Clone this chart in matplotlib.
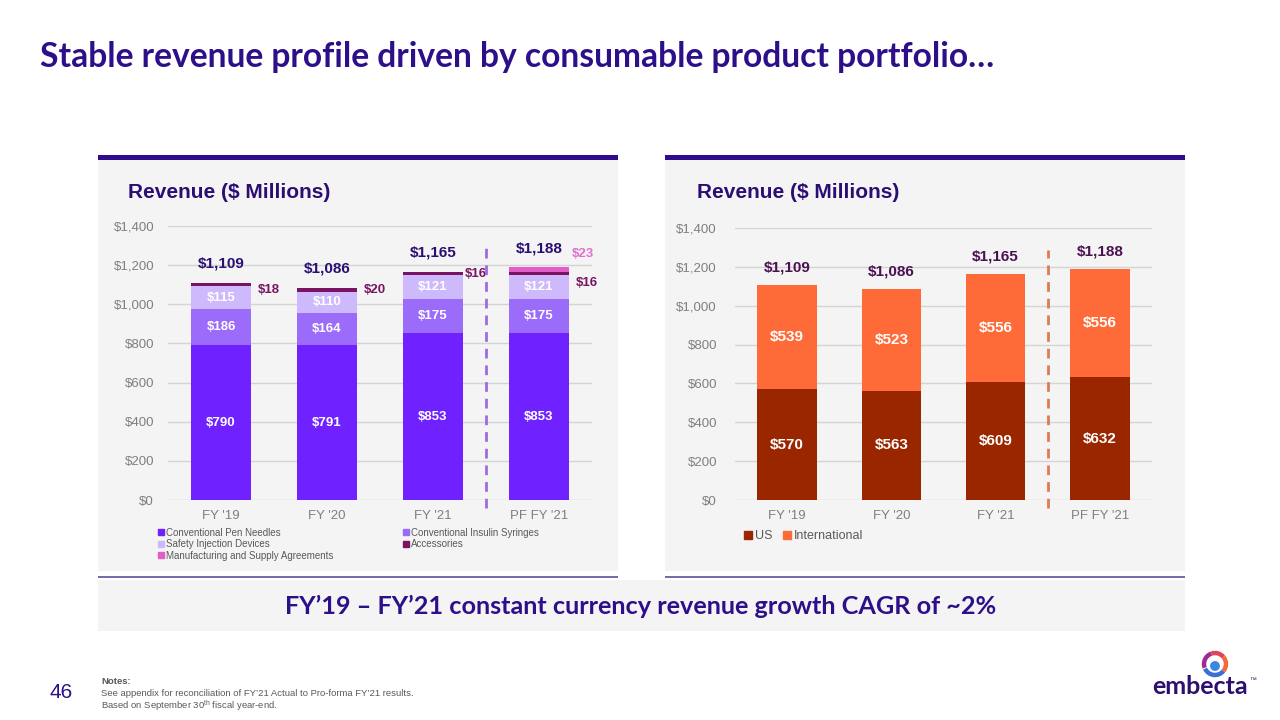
import numpy as np
import matplotlib
matplotlib.use('Agg')
import matplotlib.pyplot as plt
from matplotlib.patches import Rectangle, Arc, Circle
from matplotlib.lines import Line2D

plt.rcParams['font.family'] = ['Liberation Sans', 'DejaVu Sans']
plt.rcParams['mathtext.fontset'] = 'custom'
plt.rcParams['mathtext.rm'] = 'Liberation Sans'

# data
years = ["FY '19", "FY '20", "FY '21", "PF FY '21"]
pen_needles = [790, 791, 853, 853]
insulin_syringes = [186, 164, 175, 175]
safety_devices = [115, 110, 121, 121]
accessories = [18, 20, 16, 16]
mfg_supply = [0, 0, 0, 23]
totals = [1109, 1086, 1165, 1188]
us = [570, 563, 609, 632]
international = [539, 523, 556, 556]
yticks = [0, 200, 400, 600, 800, 1000, 1200, 1400]

# colours
c_pen = '#6F22FF'
c_syr = '#9B6BFA'
c_safe = '#CDB9FC'
c_acc = '#7A1462'
c_msa = '#E35CC8'
c_us = '#9A2600'
c_int = '#FF6B38'
navy = '#2E0F8A'
grey_txt = '#7F7F7F'
panel_bg = '#F4F4F4'

W, H = 1280, 720
fig = plt.figure(figsize=(12.8, 7.2), dpi=100)
fig.patch.set_facecolor('white')


def box(x0, y0, x1, y1):
    # pixel box (top-left origin) -> figure fraction rect
    return [x0 / W, 1 - y1 / H, (x1 - x0) / W, (y1 - y0) / H]


def rect(x0, y0, x1, y1, color):
    b = box(x0, y0, x1, y1)
    fig.patches.append(Rectangle((b[0], b[1]), b[2], b[3], transform=fig.transFigure,
                                 facecolor=color, edgecolor='none', zorder=-5))


def fx(x):
    return x / W


def fy(y):
    return 1 - y / H


# panel backgrounds and rules
for x0, x1 in [(98, 618), (665, 1185)]:
    rect(x0, 160, x1, 571, panel_bg)
    rect(x0, 155, x1, 160, '#2E0C8C')
    rect(x0, 575.5, x1, 577.5, '#7B6AAA')
rect(98, 580, 1185, 631, panel_bg)

fig.text(fx(40), fy(57), "Stable revenue profile driven by consumable product portfolio\u2026",
         fontsize=24.2, fontweight='bold', color=navy, family=['Lato', 'DejaVu Sans'],
         ha='left', va='center')
fig.text(fx(641), fy(606), "FY\u201919 \u2013 FY\u201921 constant currency revenue growth CAGR of ~2%",
         fontsize=18.2, fontweight='bold', color=navy, family=['Lato', 'DejaVu Sans'],
         ha='center', va='center')
fig.text(fx(128), fy(192), "Revenue ($ Millions)", fontsize=15, fontweight='bold',
         color='#2C0E73', ha='left', va='center')
fig.text(fx(697), fy(192), "Revenue ($ Millions)", fontsize=15, fontweight='bold',
         color='#2C0E73', ha='left', va='center')


def style_axes(ax):
    ax.set_facecolor('none')
    ax.set_xlim(-0.5, 3.5)
    ax.set_ylim(0, 1400)
    ax.set_yticks(yticks)
    ax.set_yticklabels(['${:,.0f}'.format(v) for v in yticks])
    ax.set_xticks(range(len(years)))
    ax.set_xticklabels(years)
    for s in ax.spines.values():
        s.set_visible(False)
    ax.tick_params(length=0, labelsize=9.5, labelcolor=grey_txt)
    ax.tick_params(axis='x', pad=7)
    ax.grid(axis='y', color='#D4D4D4', linewidth=1)
    ax.set_axisbelow(True)


x = np.arange(len(years))

# left chart: product portfolio
ax1 = fig.add_axes(box(168, 226, 592, 500))
style_axes(ax1)
ax1.tick_params(axis='y', pad=10)
bw = 0.57
b = np.zeros(len(years))
series = [(pen_needles, c_pen, 'Conventional Pen Needles'),
          (insulin_syringes, c_syr, 'Conventional Insulin Syringes'),
          (safety_devices, c_safe, 'Safety Injection Devices'),
          (accessories, c_acc, 'Accessories'),
          (mfg_supply, c_msa, 'Manufacturing and Supply Agreements')]
conts = []
for vals, col, lab in series:
    c = ax1.bar(x, vals, bw, bottom=b, color=col, label=lab, zorder=2)
    conts.append(c)
    b = b + np.array(vals)
for c in conts[:3]:
    ax1.bar_label(c, fmt='${:,.0f}', label_type='center', color='white',
                  fontsize=9.5, fontweight='bold')

# small segment labels at right of bars
acc_offsets = [(5, -4), (5, 0), (1, 0), (5, -7)]
bottoms_acc = np.array(pen_needles) + np.array(insulin_syringes) + np.array(safety_devices)
for i, v in enumerate(accessories):
    ax1.annotate('${}'.format(v), xy=(x[i] + bw / 2, bottoms_acc[i] + v / 2),
                 xytext=acc_offsets[i], textcoords='offset points', ha='left', va='center',
                 fontsize=9.5, fontweight='bold', color=c_acc)
ax1.annotate('${}'.format(mfg_supply[3]), xy=(x[3] + bw / 2, totals[3]),
             xytext=(2, 10), textcoords='offset points', ha='left', va='center',
             fontsize=9.5, fontweight='bold', color='#E070D0')
for i, t in enumerate(totals):
    ax1.annotate('${:,}'.format(t), xy=(x[i], t), xytext=(0, 14), textcoords='offset points',
                 ha='center', va='center', fontsize=11, fontweight='bold', color='#2C0E73')
ax1.plot([2.5, 2.5], [-40, 1290], color='#9E6BE0', linewidth=2, dashes=(3.5, 2.5),
         clip_on=False, zorder=3)

leg_order = [0, 2, 4, 1, 3]
handles = [Line2D([], [], marker='s', linestyle='none', markersize=4.5,
                  color=series[k][1]) for k in leg_order]
labels = [series[k][2] for k in leg_order]
fig.legend(handles, labels, loc='upper left', bbox_to_anchor=(fx(153), fy(523)), ncol=2,
           frameon=False, fontsize=7, labelcolor='#595959', handlelength=0.6,
           handletextpad=0.2, labelspacing=0.15, columnspacing=7.2, borderpad=0)

# right chart: US vs international
ax2 = fig.add_axes(box(735, 228, 1152, 500))
style_axes(ax2)
ax2.tick_params(axis='y', pad=13)
bw2 = 0.57
c_u = ax2.bar(x, us, bw2, color=c_us, label='US', zorder=2)
c_i = ax2.bar(x, international, bw2, bottom=us, color=c_int, label='International', zorder=2)
for c in (c_u, c_i):
    ax2.bar_label(c, fmt='${:,.0f}', label_type='center', color='white',
                  fontsize=11, fontweight='bold')
for i, t in enumerate(totals):
    ax2.annotate('${:,}'.format(t), xy=(x[i], t), xytext=(0, 12.5), textcoords='offset points',
                 ha='center', va='center', fontsize=11, fontweight='bold', color='#4A1250')
ax2.plot([2.5, 2.5], [-40, 1285], color='#E07A55', linewidth=2, dashes=(3.5, 2.5),
         clip_on=False, zorder=3)
h2 = [Line2D([], [], marker='s', linestyle='none', markersize=5.5, color=col)
      for col in (c_us, c_int)]
fig.legend(h2, ['US', 'International'], loc='upper left', bbox_to_anchor=(fx(738), fy(524)),
           ncol=2, frameon=False, fontsize=9, labelcolor='#595959', handlelength=0.6,
           handletextpad=0.3, columnspacing=0.8, borderpad=0)

# footer
fig.text(fx(49), fy(692), '46', fontsize=15, color=navy, ha='left', va='center')
fig.text(fx(101), fy(682), 'Notes:', fontsize=6.8, color='#595959', fontweight='bold',
         ha='left', va='center')
fig.text(fx(101), fy(694), "See appendix for reconciliation of FY\u201921 Actual to Pro-forma FY\u201921 results.",
         fontsize=6.8, color='#595959', ha='left', va='center')
fig.text(fx(101), fy(706), r'Based on September 30$^{\mathrm{th}}$ fiscal year-end.',
         fontsize=6.8, color='#595959', ha='left', va='center')

# logo
lax = fig.add_axes(box(1195, 650, 1235, 680))
lax.set_xlim(-20, 20)
lax.set_ylim(-15, 15)
lax.set_aspect('equal')
lax.axis('off')
for t1, t2, col in [(-40, 40, '#F26B3A'), (40, 110, '#E0445A'), (110, 200, '#A02D8E')]:
    lax.add_patch(Arc((0, 1), 22, 22, theta1=t1, theta2=t2, color=col, linewidth=3.2))
lax.add_patch(Arc((0, 1), 22, 22, theta1=205, theta2=320, color='#3A6FD8', linewidth=3.2))
lax.add_patch(Circle((0, -1), 4.2, color='#3A86E0'))
fig.text(fx(1152), fy(687), 'embecta', fontsize=18, fontweight='bold', color='#2E0F6E',
         family=['Lato', 'DejaVu Sans'], ha='left', va='center')
fig.text(fx(1249), fy(681), '\u2122', fontsize=5, color='#2E0F6E', ha='left', va='center')

fig.savefig('out.png', dpi=100)
